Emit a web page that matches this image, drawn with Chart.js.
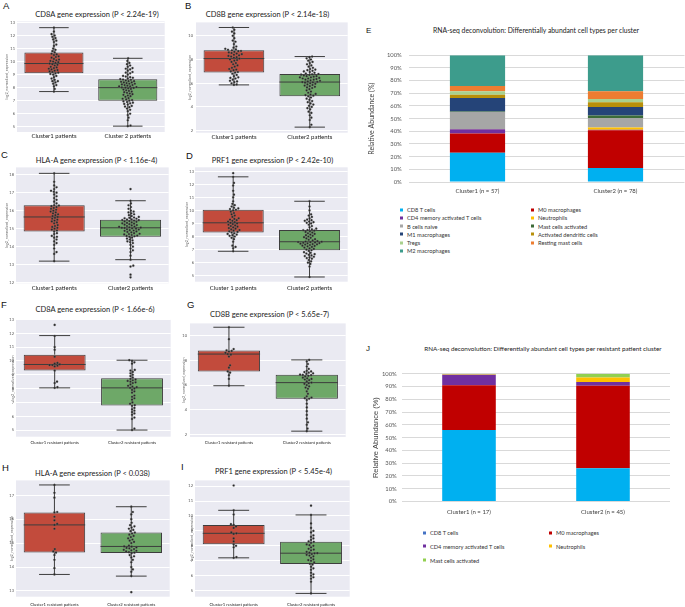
<!DOCTYPE html>
<html>
<head>
<meta charset="utf-8">
<script src="https://cdn.jsdelivr.net/npm/chart.js@4.4.1/dist/chart.umd.min.js"></script>
<style>
  body { margin: 0; width: 685px; height: 607px; position: relative; overflow: hidden; background: #fff; font-family: Lato, "Open Sans", sans-serif; color: #222; }
  canvas { position: absolute; }
  .c { position: absolute; transform: translate(-50%, -50%); white-space: nowrap; }
  .let { position: absolute; transform: translate(0, -50%); font-family: "Liberation Sans", Arial, sans-serif; font-size: 9.5px; color: #111; }
  .leg { position: absolute; white-space: nowrap; font-size: 5.7px; color: #333; transform: translate(0, -50%); }
  .leg i { display: inline-block; width: 3px; height: 3px; margin-right: 4px; vertical-align: middle; position: relative; top: -0.5px; }
</style>
</head>
<body>
<div class="let" style="left:3px;top:4.5px">A</div>
<div class="let" style="left:185px;top:5px">B</div>
<div class="let" style="left:1px;top:154px">C</div>
<div class="let" style="left:186px;top:154.5px">D</div>
<div class="let" style="left:366px;top:29.5px;font-size:8px">E</div>
<div class="let" style="left:1px;top:304px">F</div>
<div class="let" style="left:187px;top:304px">G</div>
<div class="let" style="left:2px;top:466.7px">H</div>
<div class="let" style="left:181px;top:466px">I</div>
<div class="let" style="left:366px;top:348px;font-size:8px">J</div>

<div class="c" style="left:97px;top:14px;font-size:7.5px">CD8A gene expression (P &lt; 2.24e-19)</div>
<div class="c" style="left:267.5px;top:14px;font-size:7.5px">CD8B gene expression (P &lt; 2.14e-18)</div>
<div class="c" style="left:96.5px;top:160px;font-size:7.5px">HLA-A gene expression (P &lt; 1.16e-4)</div>
<div class="c" style="left:272.5px;top:160px;font-size:7.5px">PRF1 gene expression (P &lt; 2.42e-10)</div>
<div class="c" style="left:95px;top:309.3px;font-size:7.5px">CD8A gene expression (P &lt; 1.66e-6)</div>
<div class="c" style="left:269.5px;top:314px;font-size:7.5px">CD8B gene expression (P &lt; 5.65e-7)</div>
<div class="c" style="left:92.5px;top:473.3px;font-size:7.5px">HLA-A gene expression (P &lt; 0.038)</div>
<div class="c" style="left:273.5px;top:470.7px;font-size:7.5px">PRF1 gene expression (P &lt; 5.45e-4)</div>
<div class="c" style="left:536px;top:30px;font-size:6.8px">RNA-seq deconvolution: Differentially abundant cell types per cluster</div>
<div class="c" style="left:543px;top:348px;font-size:6.3px">RNA-seq deconvolution: Differentially abundant cell types per resistant patient cluster</div>

<script>
// ---- box plot data ----
const catsA = ['Cluster1 patients', 'Cluster 2 patients'];
const catsB = ['Cluster1 patients', 'Cluster2 patients'];
const catsD = ['Cluster 1 patients', 'Cluster2 patients'];
const catsRes = ['Cluster1 resistant patients', 'Cluster2 resistant patients'];

const ticksA = [5, 6, 7, 8, 9, 10, 11, 12, 13];
const ticksB = [2, 4, 6, 8, 10];
const ticksC = [12, 13, 14, 15, 16, 17, 18];
const ticksD = [5, 6, 7, 8, 9, 10, 11, 12, 13];
const ticksF = [5, 6, 7, 8, 9, 10, 11, 12, 13];
const ticksG = [2, 4, 6, 8, 10];
const ticksH = [13, 14, 15, 16, 17];
const ticksI = [5, 6, 7, 8, 9, 10, 11, 12];

// [lower whisker, q1, median, q3, upper whisker]
const statsA1 = [7.7, 9.1, 9.85, 10.7, 12.6];
const statsA2 = [5.05, 7.0, 8.0, 8.65, 10.25];
const statsB1 = [5.86, 6.9, 8.08, 8.78, 10.7];
const statsB2 = [2.3, 4.9, 6.1, 6.78, 8.25];
const statsC1 = [13.2, 14.85, 15.65, 16.3, 18.07];
const statsC2 = [13.28, 14.55, 15.05, 15.5, 16.55];
const statsD1 = [6.87, 8.3, 9.05, 10.05, 12.57];
const statsD2 = [4.9, 6.95, 7.6, 8.5, 10.7];
const statsF1 = [8.05, 9.3, 9.74, 10.45, 11.83];
const statsF2 = [5.0, 6.78, 8.05, 8.74, 10.05];
const statsG1 = [5.95, 7.1, 8.5, 8.79, 10.66];
const statsG2 = [2.29, 4.9, 6.2, 6.84, 8.03];
const statsH1 = [13.69, 14.61, 15.76, 16.28, 17.43];
const statsH2 = [13.62, 14.59, 14.86, 15.44, 16.52];
const statsI1 = [7.2, 8.11, 8.84, 9.4, 10.38];
const statsI2 = [4.82, 6.78, 7.51, 8.27, 10.07];

const ptsA1 = [7.7, 7.9, 8.1, 8.2, 8.3, 8.4, 8.5, 8.5, 8.6, 8.7, 8.8, 8.9, 9.0, 9.05,
  9.1, 9.15, 9.2, 9.25, 9.3, 9.35, 9.4, 9.45, 9.5, 9.55, 9.6, 9.7, 9.75, 9.8, 9.85,
  9.9, 9.95, 10.0, 10.05, 10.1, 10.15, 10.2, 10.3, 10.35, 10.4, 10.5, 10.55, 10.6, 10.7,
  10.8, 10.9, 11.0, 11.2, 11.3, 11.5, 11.6, 11.7, 11.8, 11.9, 12.0, 12.1, 12.3, 12.6];
const ptsA2 = [5.05, 5.1, 5.5, 5.7, 5.9, 6.0, 6.2, 6.3, 6.4, 6.5, 6.55, 6.6, 6.7, 6.75, 6.8, 6.85, 6.9, 6.95, 7.0,
  7.05, 7.1, 7.15, 7.2, 7.3, 7.35, 7.4, 7.45, 7.5, 7.55, 7.6, 7.65, 7.7, 7.75, 7.8, 7.85, 7.9, 7.95, 7.98, 8.0, 8.02,
  8.05, 8.1, 8.1, 8.15, 8.2, 8.2, 8.25, 8.3, 8.3, 8.35, 8.4, 8.4, 8.45, 8.5, 8.5, 8.55, 8.6, 8.62, 8.65,
  8.7, 8.75, 8.8, 8.85, 8.9, 9.0, 9.1, 9.15, 9.2, 9.3, 9.4, 9.45, 9.5, 9.6, 9.7, 9.8, 9.9, 10.05, 10.25];
const ptsB1 = [5.86, 5.9, 6.0, 6.1, 6.15, 6.2, 6.3, 6.4, 6.45, 6.5, 6.6, 6.7, 6.8, 6.9,
  6.95, 7.0, 7.1, 7.15, 7.2, 7.3, 7.4, 7.5, 7.6, 7.7, 7.8, 7.9, 7.95, 8.0, 8.08,
  8.15, 8.2, 8.25, 8.3, 8.35, 8.4, 8.45, 8.5, 8.55, 8.6, 8.65, 8.7, 8.72, 8.78,
  8.82, 8.85, 8.9, 9.0, 9.1, 9.3, 9.5, 9.6, 9.8, 10.0, 10.2, 10.35, 10.5, 10.7];
const ptsB2 = [2.3, 2.5, 2.9, 3.1, 3.3, 3.5, 3.6, 3.8, 3.9, 4.0, 4.1, 4.2, 4.3, 4.4, 4.5, 4.6, 4.7, 4.8, 4.9,
  4.95, 5.0, 5.05, 5.1, 5.2, 5.3, 5.4, 5.5, 5.6, 5.65, 5.7, 5.75, 5.8, 5.85, 5.9, 5.95, 6.0, 6.05, 6.08, 6.1, 6.12,
  6.15, 6.2, 6.25, 6.3, 6.3, 6.35, 6.4, 6.4, 6.45, 6.5, 6.5, 6.55, 6.6, 6.6, 6.65, 6.7, 6.72, 6.75, 6.78,
  6.82, 6.88, 6.95, 7.0, 7.05, 7.1, 7.15, 7.2, 7.3, 7.4, 7.5, 7.6, 7.7, 7.8, 7.9, 8.0, 8.1, 8.2, 8.25];
const ptsC1 = [13.2, 13.6, 13.7, 13.9, 14.1, 14.2, 14.3, 14.4, 14.5, 14.55, 14.6, 14.7, 14.75, 14.85,
  14.9, 14.95, 15.0, 15.05, 15.1, 15.15, 15.2, 15.3, 15.35, 15.4, 15.45, 15.5, 15.55, 15.6, 15.65,
  15.7, 15.75, 15.8, 15.85, 15.9, 15.95, 16.0, 16.05, 16.1, 16.15, 16.2, 16.25, 16.28, 16.3,
  16.4, 16.5, 16.6, 16.7, 16.8, 16.9, 17.0, 17.05, 17.1, 17.2, 17.3, 17.4, 17.6, 18.07];
const ptsC2 = [12.3, 12.45, 12.9, 12.95, 13.28, 13.5, 13.7, 13.8, 13.9, 14.0, 14.1, 14.2, 14.25, 14.3, 14.35, 14.4, 14.45, 14.5, 14.55,
  14.58, 14.6, 14.62, 14.65, 14.68, 14.7, 14.72, 14.75, 14.8, 14.82, 14.85, 14.88, 14.9, 14.92, 14.95, 14.97, 15.0, 15.02, 15.04, 15.05, 15.06,
  15.08, 15.1, 15.12, 15.15, 15.18, 15.2, 15.22, 15.25, 15.28, 15.3, 15.32, 15.35, 15.38, 15.4, 15.42, 15.45, 15.47, 15.48, 15.5,
  15.52, 15.55, 15.58, 15.6, 15.62, 15.65, 15.7, 15.75, 15.8, 15.85, 15.9, 15.95, 16.0, 16.1, 16.2, 16.3, 16.4, 16.55, 17.2];
const ptsD1 = [6.87, 7.1, 7.2, 7.3, 7.6, 7.8, 7.9, 8.0, 8.05, 8.1, 8.15, 8.2, 8.25, 8.3,
  8.35, 8.4, 8.45, 8.5, 8.55, 8.6, 8.65, 8.7, 8.75, 8.8, 8.85, 8.9, 8.95, 9.0, 9.05,
  9.1, 9.15, 9.2, 9.25, 9.3, 9.35, 9.4, 9.5, 9.6, 9.7, 9.8, 9.9, 10.0, 10.05,
  10.1, 10.15, 10.2, 10.3, 10.4, 10.5, 10.7, 11.0, 11.2, 11.5, 11.9, 12.1, 12.57, 12.85];
const ptsD2 = [4.9, 5.7, 5.9, 6.0, 6.1, 6.2, 6.3, 6.35, 6.4, 6.45, 6.5, 6.55, 6.6, 6.65, 6.7, 6.75, 6.8, 6.9, 6.95,
  7.0, 7.05, 7.1, 7.15, 7.2, 7.25, 7.28, 7.3, 7.35, 7.38, 7.4, 7.42, 7.45, 7.48, 7.5, 7.52, 7.55, 7.57, 7.58, 7.6, 7.62,
  7.65, 7.7, 7.75, 7.8, 7.85, 7.9, 7.95, 8.0, 8.05, 8.1, 8.15, 8.2, 8.25, 8.3, 8.35, 8.4, 8.45, 8.48, 8.5,
  8.55, 8.6, 8.7, 8.8, 8.9, 9.0, 9.05, 9.1, 9.15, 9.2, 9.25, 9.3, 9.4, 9.5, 9.6, 9.7, 10.0, 10.3, 10.7];
const ptsF1 = [12.6, 11.8, 11.0, 10.8, 10.3, 9.85, 9.8, 9.75, 9.7, 9.7, 9.65, 9.6, 9.3, 8.5, 8.4, 8.1, 8.05];
const ptsF2 = [5.0, 5.1, 5.8, 5.9, 6.1, 6.2, 6.3, 6.4, 6.5, 6.6, 6.75,
  6.8, 6.9, 7.0, 7.2, 7.3, 7.4, 7.5, 7.7, 7.8, 7.9, 8.0, 8.05,
  8.1, 8.15, 8.2, 8.3, 8.4, 8.45, 8.5, 8.55, 8.6, 8.65, 8.7,
  8.8, 8.9, 9.0, 9.1, 9.2, 9.3, 9.35, 9.8, 9.9, 10.0, 10.05];
const ptsG1 = [10.66, 9.7, 8.9, 8.8, 8.75, 8.7, 8.6, 8.5, 8.45, 8.3, 7.6, 7.4, 7.1, 7.0, 6.8, 6.5, 5.95];
const ptsG2 = [2.29, 2.5, 2.8, 3.0, 3.3, 3.6, 3.9, 4.2, 4.5, 4.8, 4.9,
  4.95, 5.0, 5.1, 5.3, 5.5, 5.7, 5.8, 5.9, 6.0, 6.1, 6.15, 6.2,
  6.3, 6.4, 6.45, 6.5, 6.55, 6.6, 6.7, 6.75, 6.8, 6.82, 6.84,
  6.9, 6.95, 7.0, 7.05, 7.1, 7.15, 7.3, 7.5, 7.7, 7.9, 8.03];
const ptsH1 = [17.43, 17.1, 16.9, 16.3, 16.28, 16.1, 15.95, 15.8, 15.76, 15.6, 14.75, 14.65, 14.6, 14.5, 14.3, 13.95, 13.69];
const ptsH2 = [12.95, 13.62, 13.8, 13.9, 14.0, 14.2, 14.3, 14.4, 14.45, 14.5, 14.58,
  14.6, 14.62, 14.65, 14.68, 14.7, 14.72, 14.75, 14.78, 14.8, 14.82, 14.85, 14.86,
  14.9, 15.0, 15.05, 15.1, 15.15, 15.2, 15.25, 15.3, 15.35, 15.4, 15.44,
  15.5, 15.55, 15.6, 15.65, 15.7, 15.75, 15.85, 16.0, 16.2, 16.3, 16.52];
const ptsI1 = [12.04, 10.38, 10.1, 9.45, 9.4, 9.3, 9.2, 8.9, 8.84, 8.8, 8.5, 8.3, 8.1, 8.0, 7.9, 7.25, 7.2];
const ptsI2 = [4.82, 5.6, 5.8, 5.9, 6.0, 6.1, 6.2, 6.4, 6.5, 6.6, 6.75,
  6.8, 6.9, 7.0, 7.05, 7.1, 7.2, 7.3, 7.35, 7.4, 7.45, 7.5, 7.51,
  7.55, 7.6, 7.7, 7.75, 7.8, 7.9, 8.0, 8.05, 8.1, 8.2, 8.27,
  8.3, 8.4, 8.5, 8.6, 8.7, 8.9, 9.0, 9.2, 9.5, 10.07, 10.69];

// ---- stacked bar data (percent) ----
const cellTypesE = ['CD8 T cells', 'M0 macrophages', 'CD4 memory activated T cells', 'Neutrophils',
  'B cells naive', 'Mast cells activated', 'M1 macrophages', 'Activated dendritic cells',
  'Tregs', 'Resting mast cells', 'M2 macrophages'];
const colorsE = ['#00b0f0', '#c00000', '#7030a0', '#ffc000', '#a6a6a6', '#3c6b38', '#254478',
  '#b8900a', '#a9d18e', '#ed7d31', '#3d9c8c'];
const clustersE = ['Cluster1 (n = 57)', 'Cluster2 (n = 78)'];
const abundE1 = [23, 15.2, 3.4, 0.3, 13.4, 0.3, 10.6, 2.6, 2.9, 4.1, 24.2];
const abundE2 = [11, 29.8, 0.5, 1.8, 7.5, 1.9, 6.7, 3.7, 2.6, 6.2, 28.3];

const cellTypesJ = ['CD8 T cells', 'M0 macrophages', 'CD4 memory activated T cells', 'Neutrophils', 'Mast cells activated'];
const colorsJ = ['#00b0f0', '#c00000', '#7030a0', '#ffc000', '#92d050'];
const legendColorsJ = ['#4472c4', '#c00000', '#7030a0', '#ffc000', '#92d050'];
const clustersJ = ['Cluster1 (n = 17)', 'Cluster2 (n = 45)'];
const abundJ1 = [55.9, 35.2, 8.1, 0.5, 0.3];
const abundJ2 = [26.1, 64.5, 2.9, 3.6, 2.9];
const pctTicks = [0, 10, 20, 30, 40, 50, 60, 70, 80, 90, 100];

// ---- drawing ----
const FONT = 'Lato';
const LINE = '#3d3d3d';
const RED = '#c24b3c';
const GREEN = '#6ea868';
const DOT_R = 1.1;
Chart.defaults.font.family = FONT;

const bgPlugin = {
  id: 'bg',
  beforeDraw(c) {
    const a = c.chartArea, ctx = c.ctx;
    ctx.save();
    ctx.fillStyle = '#eaeaf2';
    ctx.fillRect(a.left, a.top, a.right - a.left, a.bottom - a.top);
    ctx.restore();
  }
};

function makeCanvas(left, top, w, h) {
  const cv = document.createElement('canvas');
  cv.width = w; cv.height = h;
  cv.style.left = left + 'px'; cv.style.top = top + 'px';
  cv.style.width = w + 'px'; cv.style.height = h + 'px';
  document.body.appendChild(cv);
  return cv;
}

// simple beeswarm: spread points sideways so they don't overlap (layout only)
function swarmOffsets(vals, pxY, pxX, r) {
  const idx = vals.map((v, i) => i).sort((a, b) => vals[a] - vals[b]);
  const placed = [];
  const off = new Array(vals.length).fill(0);
  const d = 2 * r + 0.5;
  for (const i of idx) {
    const yp = vals[i] * pxY;
    let pos = 0;
    for (let k = 0; k < 300; k++) {
      const cands = k === 0 ? [0] : [k * 0.4, -k * 0.4];
      const hit = cands.find(cx => placed.every(p => Math.abs(p.y - yp) >= d || (p.x - cx) ** 2 + (p.y - yp) ** 2 >= d * d));
      if (hit !== undefined) { pos = hit; break; }
    }
    placed.push({ x: pos, y: yp });
    off[i] = pos / pxX;
  }
  return off;
}

function seg(x1, y1, x2, y2) {
  return { type: 'scatter', data: [{ x: x1, y: y1 }, { x: x2, y: y2 }], showLine: true,
    borderColor: LINE, borderWidth: 1, pointRadius: 0, order: 2 };
}

function boxChart(p) {
  const [l, t, r, b] = p.rect;
  const left = Math.floor(p.yTitleX - 4);
  const top = Math.floor(t - 3);
  const xPad = p.labelY - b - p.labelSize * 0.6;
  const width = Math.ceil(r - left + 2);
  const height = Math.ceil(p.labelY + p.labelSize - top);
  const xAxisH = height - (b - top);
  const cv = makeCanvas(left, top, width, height);
  const pxY = (b - t) / (p.y[1] - p.y[0]);
  const pxX = (r - l) / 2;

  const datasets = [{
    type: 'bar',
    data: p.stats.map((s, i) => ({ x: i, y: [s[1], s[3]] })),
    backgroundColor: [RED, GREEN], borderColor: LINE, borderWidth: 1, borderSkipped: false,
    barPercentage: 0.8, categoryPercentage: 1, order: 3
  }];
  p.stats.forEach((s, i) => {
    datasets.push(seg(i - 0.4, s[2], i + 0.4, s[2]));
    datasets.push(seg(i, s[0], i, s[1]));
    datasets.push(seg(i, s[3], i, s[4]));
    datasets.push(seg(i - 0.2, s[0], i + 0.2, s[0]));
    datasets.push(seg(i - 0.2, s[4], i + 0.2, s[4]));
  });
  p.pts.forEach((vals, i) => {
    const off = swarmOffsets(vals, pxY, pxX, DOT_R);
    datasets.push({ type: 'scatter', data: vals.map((v, j) => ({ x: i + off[j], y: v })),
      pointRadius: DOT_R, pointBackgroundColor: '#262626', pointBorderColor: '#777', pointBorderWidth: 0.3, order: 1 });
  });

  new Chart(cv, {
    type: 'bar',
    data: { datasets },
    options: {
      responsive: false, animation: false, devicePixelRatio: 1,
      layout: { padding: { left: 0, top: t - top, right: width - (r - left), bottom: 0 } },
      plugins: { legend: { display: false }, tooltip: { enabled: false } },
      scales: {
        x: {
          type: 'linear', min: -0.5, max: 1.5, offset: false,
          grid: { display: false, drawTicks: false }, border: { display: false },
          afterBuildTicks: s => { s.ticks = [{ value: 0 }, { value: 1 }]; },
          afterFit: s => { s.height = xAxisH; },
          ticks: { padding: xPad, color: '#222', font: { size: p.labelSize }, maxRotation: 0, autoSkip: false,
            callback: v => p.cats[v] }
        },
        y: {
          min: p.y[0], max: p.y[1],
          grid: { color: '#ffffff', lineWidth: 1, drawTicks: false }, border: { display: false },
          afterBuildTicks: s => { s.ticks = p.ticks.map(v => ({ value: v })); },
          afterFit: s => { s.width = l - left; },
          ticks: { padding: p.tickPad, color: '#555', font: { size: 4 } },
          title: { display: true, text: 'log2_normalized_expression', color: '#666', font: { size: 3.7 },
            padding: { top: (p.yTitleX - left) - 3.7 * 1.2 / 2, bottom: 0 } }
        }
      }
    },
    plugins: [bgPlugin]
  });
}

const boxPanels = [
  { rect: [17, 20, 167, 132], y: [4.6, 13.08], ticks: ticksA, cats: catsA, stats: [statsA1, statsA2], pts: [ptsA1, ptsA2], yTitleX: 7, tickPad: 2, labelY: 136, labelSize: 6 },
  { rect: [196, 20.7, 350, 132.7], y: [1.83, 11.13], ticks: ticksB, cats: catsB, stats: [statsB1, statsB2], pts: [ptsB1, ptsB2], yTitleX: 190, tickPad: 3, labelY: 136.7, labelSize: 6 },
  { rect: [16, 166.7, 171, 283.3], y: [11.97, 18.4], ticks: ticksC, cats: catsB, stats: [statsC1, statsC2], pts: [ptsC1, ptsC2], yTitleX: 7, tickPad: 2, labelY: 288, labelSize: 6 },
  { rect: [195, 166.7, 350, 281.7], y: [4.54, 13.3], ticks: ticksD, cats: catsD, stats: [statsD1, statsD2], pts: [ptsD1, ptsD2], yTitleX: 187, tickPad: 1, labelY: 288.3, labelSize: 6 },
  { rect: [16, 318.8, 173, 436.7], y: [4.52, 13.0], ticks: ticksF, cats: catsRes, stats: [statsF1, statsF2], pts: [ptsF1, ptsF2], yTitleX: 12.7, tickPad: 2, labelY: 442.7, labelSize: 4.2 },
  { rect: [190, 321, 348, 437], y: [1.82, 10.97], ticks: ticksG, cats: catsRes, stats: [statsG1, statsG2], pts: [ptsG1, ptsG2], yTitleX: 184, tickPad: 3, labelY: 442.7, labelSize: 4.2 },
  { rect: [16, 479.3, 172, 596.7], y: [12.76, 17.62], ticks: ticksH, cats: catsRes, stats: [statsH1, statsH2], pts: [ptsH1, ptsH2], yTitleX: 12, tickPad: 2, labelY: 605, labelSize: 4.2 },
  { rect: [195, 479.3, 352, 596.7], y: [4.6, 12.38], ticks: ticksI, cats: catsRes, stats: [statsI1, statsI2], pts: [ptsI1, ptsI2], yTitleX: 192, tickPad: 2, labelY: 605, labelSize: 4.2 }
];
boxPanels.forEach(boxChart);

function stackChart(s) {
  const [l, t, r, b] = s.rect;
  const cv = makeCanvas(s.left, s.top, s.width, s.height);
  const xAxisH = s.height - (b - s.top);
  new Chart(cv, {
    type: 'bar',
    data: {
      labels: s.clusters,
      datasets: s.types.map((name, k) => ({
        label: name, data: [s.v1[k], s.v2[k]], backgroundColor: s.colors[k],
        barPercentage: 0.4, categoryPercentage: 1
      }))
    },
    options: {
      responsive: false, animation: false, devicePixelRatio: 1,
      layout: { padding: { left: 0, top: t - s.top, right: s.width - (r - s.left), bottom: 0 } },
      plugins: { legend: { display: false }, tooltip: { enabled: false } },
      scales: {
        x: {
          stacked: true, grid: { display: false, drawTicks: false }, border: { display: false },
          afterFit: sc => { sc.height = xAxisH; },
          ticks: { padding: s.labelY - b - 3.6, color: '#404040', font: { size: 6, family: s.font } }
        },
        y: {
          stacked: true, min: 0, max: 100,
          grid: { color: '#d9d9d9', drawTicks: false }, border: { display: false },
          afterBuildTicks: sc => { sc.ticks = pctTicks.map(v => ({ value: v })); },
          afterFit: sc => { sc.width = l - s.left; },
          ticks: { padding: s.tickPad, color: '#595959', font: { size: 5.8, family: s.font }, callback: v => v + '%' },
          title: { display: true, text: 'Relative Abundance (%)', color: '#404040',
            font: { size: s.yTitleSize, family: s.yTitleFont },
            padding: { top: (s.yTitleX - s.left) - s.yTitleSize * 0.6, bottom: 0 } }
        }
      }
    }
  });
  // legend in two columns
  s.types.forEach((name, k) => {
    const d = document.createElement('div');
    d.className = 'leg';
    d.style.left = s.legCols[k % 2] + 'px';
    d.style.top = (s.legY0 + Math.floor(k / 2) * s.legStep) + 'px';
    d.innerHTML = '<i style="background:' + s.legColors[k] + '"></i>';
    d.appendChild(document.createTextNode(name));
    document.body.appendChild(d);
  });
}

stackChart({ rect: [408.5, 53.7, 684.5, 182], left: 360, top: 45, width: 325, height: 155,
  types: cellTypesE, colors: colorsE, legColors: colorsE, clusters: clustersE, v1: abundE1, v2: abundE2,
  labelY: 191.5, tickPad: 6.8, yTitleX: 372, yTitleSize: 7, yTitleFont: FONT, font: FONT,
  legCols: [400, 531], legY0: 209, legStep: 8.27 });

stackChart({ rect: [402, 373.7, 670, 501.5], left: 360, top: 365, width: 325, height: 155,
  types: cellTypesJ, colors: colorsJ, legColors: legendColorsJ, clusters: clustersJ, v1: abundJ1, v2: abundJ2,
  labelY: 511.7, tickPad: 5.3, yTitleX: 376, yTitleSize: 7.5, yTitleFont: 'Liberation Sans', font: FONT,
  legCols: [423, 549], legY0: 532, legStep: 13.8 });
</script>
</body>
</html>
